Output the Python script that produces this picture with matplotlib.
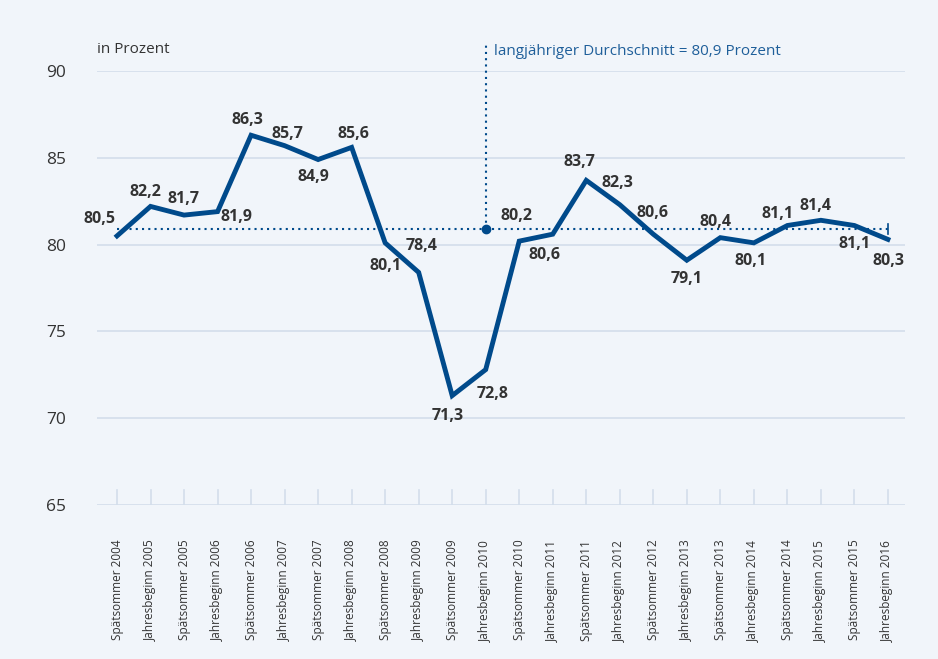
import numpy as np
import matplotlib.pyplot as plt

labels = ["Spätsommer 2004", "Jahresbeginn 2005", "Spätsommer 2005", "Jahresbeginn 2006",
          "Spätsommer 2006", "Jahresbeginn 2007", "Spätsommer 2007", "Jahresbeginn 2008",
          "Spätsommer 2008", "Jahresbeginn 2009", "Spätsommer 2009", "Jahresbeginn 2010",
          "Spätsommer 2010", "Jahresbeginn 2011", "Spätsommer 2011", "Jahresbeginn 2012",
          "Spätsommer 2012", "Jahresbeginn 2013", "Spätsommer 2013", "Jahresbeginn 2014",
          "Spätsommer 2014", "Jahresbeginn 2015", "Spätsommer 2015", "Jahresbeginn 2016"]
values = [80.5, 82.2, 81.7, 81.9, 86.3, 85.7, 84.9, 85.6, 80.1, 78.4, 71.3, 72.8,
          80.2, 80.6, 83.7, 82.3, 80.6, 79.1, 80.4, 80.1, 81.1, 81.4, 81.1, 80.3]
# label offsets in pixels (dx, dy)
offsets = [(-18, 17), (-5, 14), (-1, 16), (19, -5), (-4, 15), (3, 12), (-5, -17), (2, 13),
           (0, -23), (3, 26), (-4, -20), (7, -24), (-3, 25), (-8, -21), (-7, 18), (-2, 22),
           (-1, 21), (0, -19), (-5, 16), (-3, -18), (-10, 12), (-5, 14), (0, -18), (1, -22)]
avg = 80.9

bg = "#f1f5fa"
blue = "#004a8b"
dark = "#333333"

fig = plt.figure(figsize=(9.38, 6.59), dpi=100, facecolor=bg)
ax = fig.add_axes([97/938, 1-505/659, (905-97)/938, (505-71)/659], facecolor=bg)

x = np.arange(len(values))
ax.set_xlim(-0.597, 23.51)
ax.set_ylim(65, 90)

for y in range(65, 91, 5):
    ax.axhline(y, color="#d3deeb", lw=1.2, zorder=1)
for xi in x:
    ax.plot([xi, xi], [65, 65.85], color="#d3deeb", lw=1.2, zorder=1)

# average line
ax.plot([0, 23], [avg, avg], color=blue, lw=1.5, ls=(0, (1, 2)), zorder=2)
ax.plot([23, 23], [avg - 0.3, avg + 0.3], color=blue, lw=1.2, zorder=2)
ax.plot([11, 11], [avg, 91.5], color=blue, lw=1.5, ls=(0, (1, 2)), zorder=2, clip_on=False)
ax.plot(11, avg, "o", color=blue, ms=6, zorder=3)
ax.text(11.25, 91.1, "langjähriger Durchschnitt = 80,9 Prozent", color="#1f5f9a",
        fontsize=11, va="center", ha="left", family="Open Sans")

ax.plot(x, values, color=blue, lw=3.5, solid_joinstyle="miter", zorder=4)

for xi, v, (dx, dy) in zip(x, values, offsets):
    ax.annotate(f"{v:.1f}".replace(".", ","), (xi, v), xytext=(dx, dy),
                textcoords="offset pixels", ha="center", va="center",
                fontsize=11.5, fontweight="bold", color=dark, family="Open Sans", zorder=5)

ax.text(0, 1.05, "in Prozent", transform=ax.transAxes, fontsize=11, color=dark,
        family="Open Sans", va="center", ha="left")

ax.set_yticks([65, 70, 75, 80, 85, 90])
ax.set_yticklabels(["65", "70", "75", "80", "85", "90"], fontsize=12.5, color=dark,
                   family="Open Sans")
ax.set_xticks(x)
ax.set_xticklabels(labels, rotation=90, fontsize=8.5, color=dark, family="Open Sans")
ax.tick_params(axis="x", length=0, pad=25)
ax.tick_params(axis="y", length=0, pad=22)
for s in ax.spines.values():
    s.set_visible(False)

fig.savefig("out.png", dpi=100, facecolor=bg)
